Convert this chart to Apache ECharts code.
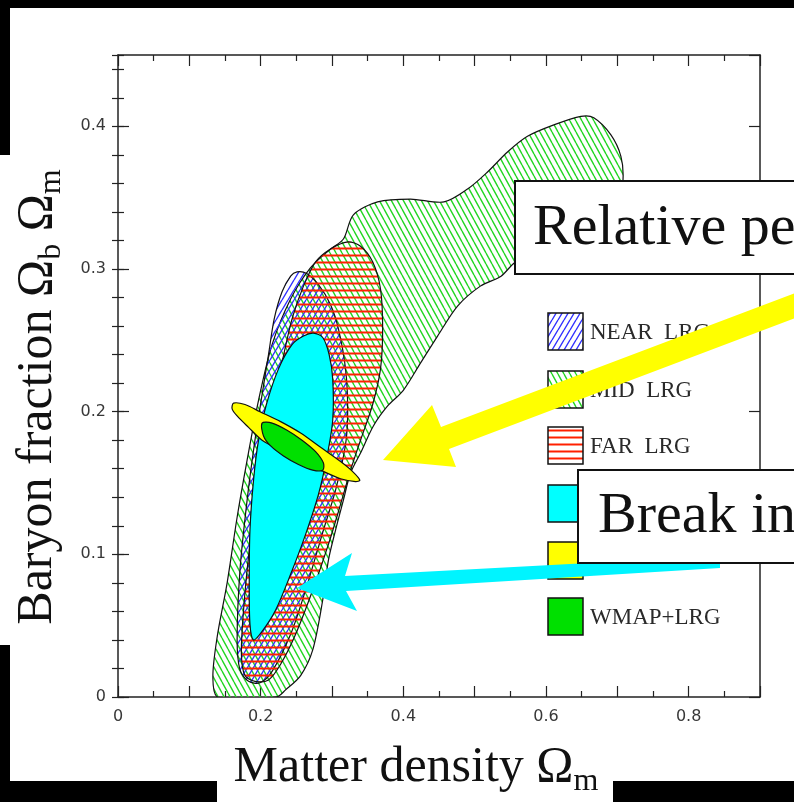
<!DOCTYPE html>
<html>
<head>
<meta charset="utf-8">
<script src="https://cdn.jsdelivr.net/npm/echarts@6/dist/echarts.min.js"></script>
<style>
html, body { margin: 0; padding: 0; background: #fff; }
#chart { width: 794px; height: 802px; }
</style>
</head>
<body>
<div id="chart"></div>
<script>
//tick labels
const xTickLabels = [0, 0.2, 0.4, 0.6, 0.8];
const yTickLabels = [0, 0.1, 0.2, 0.3, 0.4];

//contours: [matter density, baryon fraction]
const midLRG = [[0.140, 0], [0.133, 0.014], [0.139, 0.042], [0.153, 0.080], [0.167, 0.126],
    [0.181, 0.166], [0.197, 0.208], [0.216, 0.247], [0.242, 0.279], [0.270, 0.301],
    [0.298, 0.314], [0.316, 0.321], [0.330, 0.338], [0.364, 0.347], [0.410, 0.349],
    [0.457, 0.347], [0.490, 0.356], [0.518, 0.368], [0.546, 0.382], [0.574, 0.393],
    [0.611, 0.401], [0.649, 0.407], [0.667, 0.406], [0.691, 0.394], [0.705, 0.379],
    [0.708, 0.363], [0.702, 0.345], [0.670, 0.329], [0.614, 0.315], [0.558, 0.305],
    [0.537, 0.295], [0.508, 0.288], [0.476, 0.274], [0.448, 0.253], [0.424, 0.234],
    [0.400, 0.215], [0.378, 0.204], [0.358, 0.190], [0.340, 0.171], [0.326, 0.157],
    [0.316, 0.138], [0.305, 0.117], [0.295, 0.096], [0.287, 0.068], [0.273, 0.033],
    [0.256, 0.015], [0.235, 0.005], [0.222, 0]];
const nearLRG = [[0.251, 0.298], [0.264, 0.297], [0.281, 0.289], [0.298, 0.275], [0.309, 0.258],
    [0.319, 0.230], [0.322, 0.201], [0.319, 0.177], [0.305, 0.145], [0.288, 0.117],
    [0.263, 0.075], [0.242, 0.044], [0.216, 0.018], [0.199, 0.010], [0.183, 0.011],
    [0.171, 0.019], [0.167, 0.040], [0.171, 0.089], [0.181, 0.138], [0.192, 0.180],
    [0.202, 0.212], [0.211, 0.240], [0.219, 0.265], [0.230, 0.284], [0.242, 0.295]];
const farLRG = [[0.322, 0.319], [0.340, 0.316], [0.357, 0.305], [0.368, 0.286], [0.371, 0.258],
    [0.368, 0.230], [0.357, 0.205], [0.340, 0.180], [0.326, 0.159], [0.312, 0.135],
    [0.295, 0.107], [0.273, 0.075], [0.249, 0.044], [0.228, 0.023], [0.211, 0.012],
    [0.192, 0.011], [0.178, 0.015], [0.173, 0.030], [0.176, 0.061], [0.184, 0.103],
    [0.195, 0.145], [0.209, 0.187], [0.228, 0.230], [0.244, 0.265], [0.260, 0.288],
    [0.277, 0.305], [0.298, 0.314]];
const allLRG = [[0.274, 0.255], [0.287, 0.252], [0.296, 0.240], [0.301, 0.223], [0.301, 0.194],
    [0.292, 0.166], [0.281, 0.142], [0.263, 0.114], [0.242, 0.086], [0.221, 0.061],
    [0.202, 0.046], [0.190, 0.040], [0.185, 0.051], [0.184, 0.082], [0.185, 0.117],
    [0.190, 0.152], [0.197, 0.180], [0.208, 0.205], [0.225, 0.230], [0.244, 0.247],
    [0.260, 0.253]];
const wmap = [[0.162, 0.206], [0.178, 0.205], [0.199, 0.200], [0.228, 0.193], [0.256, 0.185],
    [0.284, 0.175], [0.312, 0.165], [0.329, 0.158], [0.339, 0.152], [0.333, 0.151],
    [0.312, 0.153], [0.284, 0.159], [0.256, 0.166], [0.228, 0.173], [0.202, 0.180],
    [0.183, 0.189], [0.167, 0.197], [0.160, 0.202]];
const wmapLRG = [[0.202, 0.192], [0.216, 0.192], [0.237, 0.187], [0.258, 0.180], [0.277, 0.172],
    [0.288, 0.164], [0.287, 0.159], [0.273, 0.159], [0.253, 0.163], [0.232, 0.169],
    [0.214, 0.176], [0.204, 0.183]];

//legend entries
const legendNames = ["NEAR  LRG", "MID  LRG", "FAR  LRG", "ALL  LRG", "WMAP", "WMAP+LRG"];

//hatch fill as a repeating canvas pattern
function hatch(w, h, color, lw, kind) {
    const c = document.createElement("canvas");
    c.width = w;
    c.height = h;
    const g = c.getContext("2d");
    g.strokeStyle = color;
    g.lineWidth = lw;
    g.beginPath();
    if (kind === "-") {
        g.moveTo(0, h / 2);
        g.lineTo(w, h / 2);
    } else {
        for (let k = -1; k <= 1; k++) {
            if (kind === "/") { g.moveTo(k * w, h); g.lineTo((k + 1) * w, 0); }
            else { g.moveTo(k * w, 0); g.lineTo((k + 1) * w, h); }
        }
    }
    g.stroke();
    return { image: c, repeat: "repeat" };
}

const blueHatch = hatch(6, 10, "#3030ff", 1.4, "/");
const greenHatch = hatch(6, 11, "#22d622", 1.4, "\\");
const redHatch = hatch(8, 7, "#ff2000", 2, "-");
const fills = [blueHatch, greenHatch, redHatch, "#00ffff", "#ffff00", "#00e000"];

//one custom series per contour
function region(name, pts, fill, z) {
    return {
        type: "custom",
        name: name,
        coordinateSystem: "cartesian2d",
        clip: true,
        silent: true,
        z: z,
        data: pts,
        renderItem: (params, api) => {
            if (params.dataIndex !== 0) return null;
            return {
                type: "polygon",
                shape: { points: pts.map(p => api.coord(p)), smooth: 0.3 },
                style: { fill: fill, stroke: "#111", lineWidth: 1.2 }
            };
        }
    };
}

const tickFmt = list => v => list.some(t => Math.abs(t - v) < 1e-6) ? (v === 0 ? "0" : v.toFixed(1)) : "";
const frame = { show: true, onZero: false, lineStyle: { color: "#222", width: 1.5 } };
const tickStyle = { color: "#222", width: 1.2 };
const labelStyle = { color: "#383838", fontSize: 16, fontFamily: "DejaVu Sans" };

function xAxis(pos, labels) {
    return {
        type: "value", min: 0, max: 0.9, interval: 0.1, position: pos,
        axisLine: frame,
        axisTick: { inside: true, length: 11, lineStyle: tickStyle },
        minorTick: { show: true, splitNumber: 2, length: 6, lineStyle: tickStyle },
        splitLine: { show: false },
        axisLabel: { show: labels, margin: 12, showMaxLabel: false, formatter: tickFmt(xTickLabels), ...labelStyle }
    };
}

function yAxis(pos, labels, step, len) {
    return {
        type: "value", min: 0, max: 0.45, interval: step, position: pos,
        axisLine: labels !== null ? frame : { show: false },
        axisTick: { inside: true, length: len, lineStyle: tickStyle },
        splitLine: { show: false },
        axisLabel: { show: !!labels, margin: 12, showMaxLabel: false, formatter: tickFmt(yTickLabels), ...labelStyle }
    };
}

//legend, arrows and callout boxes
const legendTops = [313, 371, 427, 485, 542, 598];
const legendEls = [];
legendNames.forEach((name, i) => {
    legendEls.push({ type: "rect", z: 10, shape: { x: 548, y: legendTops[i], width: 35, height: 37 },
        style: { fill: "#fff", stroke: null } });
    legendEls.push({ type: "rect", z: 11, shape: { x: 548, y: legendTops[i], width: 35, height: 37 },
        style: { fill: fills[i], stroke: "#111", lineWidth: 1.5 } });
    legendEls.push({ type: "text", z: 11, x: 590, y: legendTops[i] + 20,
        style: { text: name, fontSize: 23, fontFamily: "Liberation Serif", fill: "#2a2a2a", verticalAlign: "middle" } });
});

const serif = "Liberation Serif";
const overlay = [
    { type: "polygon", z: 20, shape: { points: [[383, 460], [432, 405], [441, 427], [806, 289], [814, 311], [449, 449], [456, 467]] },
        style: { fill: "#ffff00" } },
    { type: "polygon", z: 20, shape: { points: [[297, 588], [352, 553], [345, 576], [720, 556], [720, 568], [346, 591], [357, 611]] },
        style: { fill: "#00f4ff" } },
    { type: "rect", z: 30, shape: { x: 515, y: 181, width: 320, height: 93 }, style: { fill: "#fff", stroke: "#111", lineWidth: 2 } },
    { type: "text", z: 31, x: 533, y: 229, style: { text: "Relative peak positions", fontSize: 58, fontFamily: serif, fill: "#111", verticalAlign: "middle" } },
    { type: "rect", z: 30, shape: { x: 578, y: 470, width: 260, height: 93 }, style: { fill: "#fff", stroke: "#111", lineWidth: 2 } },
    { type: "text", z: 31, x: 598, y: 517, style: { text: "Break in degeneracy", fontSize: 58, fontFamily: serif, fill: "#111", verticalAlign: "middle" } },
    //axis titles
    { type: "text", z: 31, x: 416, y: 768, style: {
        text: "{t|Matter density Ω}{s|m}", align: "center", verticalAlign: "middle",
        rich: { t: { fontSize: 50, fontFamily: serif, fill: "#111", lineHeight: 60 },
                s: { fontSize: 32, fontFamily: serif, fill: "#111", lineHeight: 30, verticalAlign: "bottom" } } } },
    { type: "text", z: 31, x: 38, y: 397, rotation: Math.PI / 2, style: {
        text: "{t|Baryon fraction Ω}{s|b}{t| Ω}{s|m}", align: "center", verticalAlign: "middle",
        rich: { t: { fontSize: 50, fontFamily: serif, fill: "#111", lineHeight: 60 },
                s: { fontSize: 32, fontFamily: serif, fill: "#111", lineHeight: 30, verticalAlign: "bottom" } } } },
    //black slide edges
    { type: "rect", z: 40, shape: { x: 0, y: 0, width: 794, height: 8 }, style: { fill: "#000" } },
    { type: "rect", z: 40, shape: { x: 0, y: 0, width: 10, height: 155 }, style: { fill: "#000" } },
    { type: "rect", z: 40, shape: { x: 0, y: 645, width: 10, height: 157 }, style: { fill: "#000" } },
    { type: "rect", z: 40, shape: { x: 0, y: 781, width: 217, height: 21 }, style: { fill: "#000" } },
    { type: "rect", z: 40, shape: { x: 613, y: 781, width: 181, height: 21 }, style: { fill: "#000" } }
];

const chart = echarts.init(document.getElementById("chart"), null, { renderer: "canvas" });
chart.setOption({
    backgroundColor: "#fff",
    animation: false,
    grid: { left: 118, right: 34, top: 55, bottom: 105 },
    xAxis: [xAxis("bottom", true), xAxis("top", false)],
    yAxis: [yAxis("left", true, 0.1, 11), yAxis("left", null, 0.02, 6),
            yAxis("right", false, 0.1, 11), yAxis("right", null, 0.02, 6)],
    series: [
        region("MID LRG", midLRG, greenHatch, 2),
        region("NEAR LRG", nearLRG, blueHatch, 3),
        region("FAR LRG", farLRG, redHatch, 4),
        region("ALL LRG", allLRG, "#00ffff", 5),
        region("WMAP", wmap, "#ffff00", 6),
        region("WMAP+LRG", wmapLRG, "#00e000", 7)
    ],
    graphic: { elements: legendEls.concat(overlay) }
});
</script>
</body>
</html>
